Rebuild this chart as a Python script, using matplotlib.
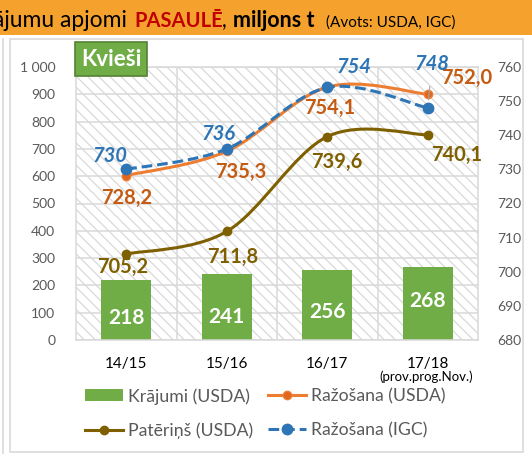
import matplotlib

matplotlib.use("Agg")
import matplotlib.pyplot as plt
import numpy as np
from matplotlib.lines import Line2D
from matplotlib.path import Path
from matplotlib.patches import PathPatch, Rectangle

plt.rcParams["font.family"] = ["Lato", "DejaVu Sans"]
plt.rcParams["hatch.linewidth"] = 0.9

seasons = ["14/15", "15/16", "16/17", "17/18"]
stocks_usda = [218, 241, 256, 268]
production_usda = [728.2, 735.3, 754.1, 752.0]
consumption_usda = [705.2, 711.8, 739.6, 740.1]
production_igc = [730, 736, 754, 748]
left_ticks = list(range(0, 1001, 100))
right_ticks = list(range(680, 761, 10))

W, H, DPI = 532, 458, 100
GREEN = "#70AD47"
ORANGE = "#ED7D31"
ORANGE_TXT = "#C55A11"
BROWN = "#7F6000"
BLUE = "#2E75B6"
GRID = "#D9D9D9"
TICK = "#595959"

# label offsets from the point, in pixels (dx right, dy down)
off_prod = [(0, 22), (14, 21), (2, 21), (39, -16)]
off_igc = [(-16, -13), (-8, -15), (27, -20), (4, -44)]
off_cons = [(-4, 13), (6, 25), (10, 25), (29, 20)]
off_bars = [38, 43, 42, 34]


def smooth_path(xs, ys):
    # Excel-like smoothed line: cubic bezier through the points
    pts = np.column_stack([xs, ys]).astype(float)
    ext = np.vstack([pts[0], pts, pts[-1]])
    verts = [pts[0]]
    codes = [Path.MOVETO]
    for i in range(len(pts) - 1):
        p0, p1, p2, p3 = ext[i], ext[i + 1], ext[i + 2], ext[i + 3]
        verts += [p1 + (p2 - p0) / 6, p2 - (p3 - p1) / 6, p2]
        codes += [Path.CURVE4] * 3
    return Path(verts, codes)


def label(axis, x, y, text, dx, dy, **kw):
    axis.annotate(text, (x, y), xytext=(dx * 0.72, -dy * 0.72), textcoords="offset points",
                  ha="center", va="center", **kw)


def dec(v):
    return f"{v:.1f}".replace(".", ",")


fig = plt.figure(figsize=(W / DPI, H / DPI), dpi=DPI)

# background: orange header band and panel borders
bg = fig.add_axes([0, 0, 1, 1])
bg.set_xlim(0, W)
bg.set_ylim(H, 0)
bg.axis("off")
bg.add_patch(Rectangle((0, 0), W, 35, facecolor="#F4A22D", edgecolor="none"))
bg.add_patch(Rectangle((10, 39), 513, 413, facecolor="white", edgecolor=GRID, lw=1.2))
bg.plot([3, 3], [39, 453], color=GRID, lw=1.2)

# title pieces, each placed where it sits in the original header
base = 27
bg.text(127, base, "ājumu apjomi", ha="right", va="baseline", fontsize=16.5, color="black")
bg.text(134, base, "PASAULĒ", ha="left", va="baseline", fontsize=14.5, fontweight="bold", color="#C00000")
bg.text(222, base, ",", ha="left", va="baseline", fontsize=15, color="black")
bg.text(233, base, "miljons t", ha="left", va="baseline", fontsize=15.5, fontweight="bold", color="black")
bg.text(326, base, "(Avots: USDA, IGC)", ha="left", va="baseline", fontsize=11, color="black")

x = np.arange(len(seasons))

ax = fig.add_axes([76 / W, 1 - 340 / H, (478 - 76) / W, (340 - 67) / H])
ax.set_xlim(-0.5, len(seasons) - 0.5)
ax.set_ylim(0, 1000)
ax.patch.set_facecolor("white")
ax.add_patch(Rectangle((0, 0), 1, 1, transform=ax.transAxes, facecolor="white", edgecolor=GRID,
                       hatch="\\\\\\", lw=0, zorder=0))
ax.set_yticks(left_ticks)
ax.set_yticklabels([f"{v:,}".replace(",", " ") for v in left_ticks])
ax.grid(axis="y", color=GRID, lw=1.1, zorder=1)
for b in x[:-1] + 0.5:
    ax.axvline(b, color=GRID, lw=1.1, zorder=1)
ax.set_axisbelow(True)
for s in ax.spines.values():
    s.set_color(GRID)
    s.set_linewidth(1.1)
ax.tick_params(axis="y", length=0, pad=15, labelsize=10, labelcolor=TICK)
ax.tick_params(axis="x", length=0, pad=12, labelsize=11, labelcolor="black")
ax.set_xticks(x)
ax.set_xticklabels(seasons)
ax.text(2.98, -0.135, "(prov.prog.Nov.)", transform=ax.get_xaxis_transform(), ha="center", va="center",
        fontsize=9.5, color="black")

bars = ax.bar(x, stocks_usda, width=0.5, color=GREEN, zorder=2)
for i, v in enumerate(stocks_usda):
    label(ax, i, v, str(v), 0, off_bars[i], color="white", fontsize=15, fontweight="bold", zorder=3)

fig.text(111 / W, 1 - 59 / H, "Kvieši", ha="center", va="center", fontsize=16, fontweight="bold",
         color="white", zorder=10,
         bbox=dict(boxstyle="square,pad=0.28", facecolor=GREEN, edgecolor="#548235", lw=1.2))

ax2 = ax.twinx()
ax2.set_ylim(680, 760)
ax2.set_yticks(right_ticks)
ax2.tick_params(axis="y", length=0, pad=14, labelsize=10, labelcolor=TICK)
for s in ax2.spines.values():
    s.set_visible(False)

ax2.add_patch(PathPatch(smooth_path(x, consumption_usda), facecolor="none", edgecolor=BROWN, lw=2.2, zorder=3))
ax2.plot(x, consumption_usda, "o", color=BROWN, ms=6, zorder=4)
ax2.add_patch(PathPatch(smooth_path(x, production_usda), facecolor="none", edgecolor=ORANGE, lw=2.2, zorder=3))
ax2.plot(x, production_usda, "o", color=ORANGE, mfc="#E0671F", ms=6, zorder=4)
ax2.add_patch(PathPatch(smooth_path(x, production_igc), facecolor="none", edgecolor=BLUE, lw=2.2,
                        linestyle=(0, (3.5, 1.6)), zorder=5))
ax2.plot(x, production_igc, "o", color=BLUE, ms=7.5, zorder=6)

for i in range(len(seasons)):
    label(ax2, i, production_usda[i], dec(production_usda[i]), *off_prod[i], color=ORANGE_TXT,
          fontsize=14.5, fontweight="bold", zorder=7)
    label(ax2, i, consumption_usda[i], dec(consumption_usda[i]), *off_cons[i], color=BROWN,
          fontsize=14.5, fontweight="bold", zorder=7)
    kw = dict(color=BLUE, fontsize=14.5, fontweight="bold", fontstyle="italic", zorder=7)
    if i == len(seasons) - 1:
        kw["arrowprops"] = dict(arrowstyle="-", color="#A6A6A6", lw=0.8, shrinkA=7, shrinkB=6)
    label(ax2, i, production_igc[i], str(production_igc[i]), *off_igc[i], **kw)

handles = [
    Rectangle((0, 0), 1, 1, facecolor=GREEN, edgecolor="none"),
    Line2D([], [], color=BROWN, lw=2.2, marker="o", ms=6),
    Line2D([], [], color=ORANGE, lw=2.2, marker="o", ms=6, mfc="#E0671F"),
    Line2D([], [], color=BLUE, lw=2.2, ls=(0, (3.5, 1.6)), marker="o", ms=7.5),
]
names = ["Krājumi (USDA)", "Patēriņš (USDA)", "Ražošana (USDA)", "Ražošana (IGC)"]
# one legend per column so each column starts where it does in the original
legend_kw = dict(loc="upper left", frameon=False, fontsize=12.7, labelcolor=TICK, handlelength=2.15,
                 handleheight=0.65, handletextpad=0.28, labelspacing=1.02, borderpad=0, borderaxespad=0)
fig.legend(handles[:2], names[:2], bbox_to_anchor=(85 / W, 1 - 388 / H), **legend_kw)
fig.legend(handles[2:], names[2:], bbox_to_anchor=(268 / W, 1 - 388 / H), **legend_kw)

fig.savefig("out.png", dpi=DPI)
